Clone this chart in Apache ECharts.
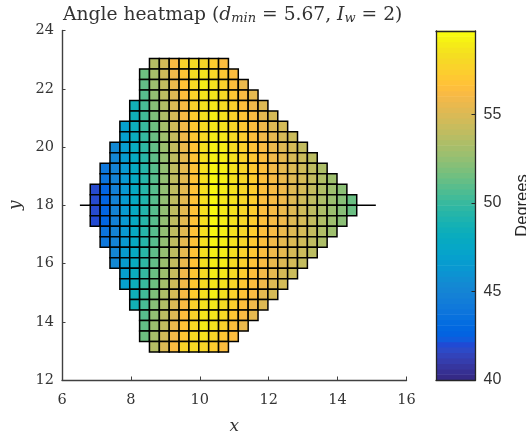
<!DOCTYPE html>
<html><head><meta charset="utf-8">
<style>html,body{margin:0;padding:0;background:#fff}#c{width:526px;height:439px}</style>
<script src="https://cdn.jsdelivr.net/npm/echarts@6/dist/echarts.min.js"></script>
</head><body><div id="c"></div>
<script>
const colX=[6.963,7.25,7.536,7.823,8.109,8.396,8.682,8.969,9.255,9.542,9.828,10.115,10.401,10.688,10.974,11.261,11.547,11.834,12.12,12.407,12.693,12.98,13.266,13.553,13.839,14.126,14.412];
const rowY=[22.86,22.5,22.14,21.78,21.42,21.06,20.7,20.34,19.98,19.62,19.26,18.9,18.54,18.18,17.82,17.46,17.1,16.74,16.38,16.02,15.66,15.3,14.94,14.58,14.22,13.86,13.5,13.14];
const rowFirstCol=[6,5,5,5,4,4,3,3,2,2,1,1,0,0,0,0,1,1,2,2,3,3,4,4,5,5,5,6];
const cellW=0.2865, cellH=0.36;
const rowValues=[
[53.7,54.8,56.3,57.7,58.2,58.0,57.4,56.5],
[51.5,53.2,54.6,55.9,57.0,58.3,58.6,58.0,57.1,56.5],
[51.2,52.8,54.1,55.7,56.9,58.2,59.1,58.6,57.7,56.6,55.7],
[50.9,52.5,53.9,55.2,56.6,57.8,58.8,58.8,58.2,57.1,56.3,55.5],
[48.6,50.5,52.2,53.5,55.1,56.3,57.7,58.6,58.9,58.3,57.6,56.6,55.9,55.2],
[48.5,50.3,51.9,53.4,54.8,56.2,57.4,58.5,59.2,58.6,57.7,56.9,56.3,55.5,54.9],
[46.9,48.3,50.0,51.5,53.1,54.6,56.0,57.2,58.3,58.9,58.6,57.9,57.1,56.5,55.9,55.2,54.8],
[46.8,48.2,49.9,51.4,52.9,54.3,55.9,57.1,58.2,59.1,58.9,58.2,57.4,56.6,56.0,55.5,54.9,54.5],
[45.2,46.6,48.0,49.7,51.2,52.8,54.2,55.7,56.9,58.5,59.2,59.1,58.3,57.6,56.8,56.3,55.7,55.2,54.8,54.2],
[45.1,46.5,47.8,49.5,51.1,52.6,54.0,55.5,56.9,58.5,59.2,59.1,58.5,57.7,57.1,56.5,55.9,55.5,54.9,54.5,53.9],
[43.9,44.8,46.3,47.8,49.4,50.9,52.5,54.0,55.5,56.8,58.5,59.4,59.2,58.6,57.9,57.2,56.6,56.0,55.5,55.1,54.6,54.0,53.4],
[43.7,44.8,46.3,47.8,49.4,50.9,52.5,54.0,55.4,56.8,58.5,59.5,59.2,58.6,58.0,57.4,56.6,56.2,55.7,55.2,54.8,54.2,53.5,52.9],
[41.7,42.6,44.6,46.3,47.8,49.4,50.9,52.5,54.0,55.4,56.8,58.5,59.5,59.1,58.6,58.0,57.4,56.6,56.2,55.9,55.2,54.8,54.2,53.5,52.9,52.3],
[41.7,42.6,44.8,46.5,47.8,49.2,50.9,52.5,54.0,55.4,56.8,58.5,59.5,58.9,58.6,58.0,57.4,56.5,56.2,55.9,55.2,54.6,54.0,53.4,52.8,52.2,51.4],
[41.7,42.6,44.8,46.4,47.8,49.3,50.9,52.5,54.0,55.4,56.8,58.5,59.6,59.0,58.6,58.0,57.4,56.5,56.2,55.8,55.2,54.6,54.0,53.4,52.8,52.2,51.4],
[41.8,42.7,44.6,46.3,47.8,49.4,50.9,52.5,54.0,55.4,56.8,58.5,59.5,59.1,58.6,58.0,57.4,56.6,56.2,55.9,55.2,54.8,54.2,53.5,52.9,52.3],
[43.7,44.8,46.3,47.8,49.4,50.9,52.5,54.0,55.4,56.8,58.5,59.5,59.2,58.6,58.0,57.4,56.6,56.2,55.7,55.2,54.8,54.2,53.5,52.9],
[43.9,44.8,46.3,47.8,49.4,50.9,52.5,54.0,55.5,56.8,58.5,59.4,59.2,58.6,57.9,57.2,56.6,56.0,55.5,55.1,54.6,54.0,53.4],
[45.1,46.5,47.8,49.5,51.1,52.6,54.0,55.5,56.9,58.5,59.2,59.1,58.5,57.7,57.1,56.5,55.9,55.5,54.9,54.5,53.9],
[45.2,46.6,48.0,49.7,51.2,52.8,54.2,55.7,56.9,58.5,59.2,59.1,58.3,57.6,56.8,56.3,55.7,55.2,54.8,54.2],
[46.8,48.2,49.9,51.4,52.9,54.3,55.9,57.1,58.2,59.1,58.9,58.2,57.4,56.6,56.0,55.5,54.9,54.5],
[46.9,48.3,50.0,51.5,53.1,54.6,56.0,57.2,58.3,58.9,58.6,57.9,57.1,56.5,55.9,55.2,54.8],
[48.5,50.3,51.9,53.4,54.8,56.2,57.4,58.5,59.2,58.6,57.7,56.9,56.3,55.5,54.9],
[48.6,50.5,52.2,53.5,55.1,56.3,57.7,58.6,58.9,58.3,57.6,56.6,55.9,55.2],
[50.9,52.5,53.9,55.2,56.6,57.8,58.8,58.8,58.2,57.1,56.3,55.5],
[51.2,52.8,54.1,55.7,56.9,58.2,59.1,58.6,57.7,56.6,55.7],
[51.5,53.2,54.7,56.0,57.1,58.3,58.6,58.0,57.1,56.5],
[53.7,55.1,56.4,57.9,58.2,58.0,57.4,56.5]
];
const sightLineX=[6.52,15.11];
const sightLineY=[18,18];
const xTicks=[6,8,10,12,14,16];
const yTicks=[12,14,16,18,20,22,24];
const cbarTicks=[40,45,50,55];
const cbarMin=40, cbarMax=59.7;
const parula=['#352a87','#363093','#36369f','#353dad','#3243ba','#2c4ac7','#204ad4','#0f5cdd','#0363e1','#0268e1','#046de0','#0871de','#0d75dc','#1079da','#127dd8','#1481d6','#1485d4','#1389d3','#108ed2','#0c93d2','#0998d1','#079ccf','#06a0cd','#06a4ca','#06a7c6','#07a9c2','#0aacbe','#0faeb9','#15b1b4','#1db3af','#25b5a9','#2eb7a4','#38b99e','#42bb98','#4dbc92','#59bd8c','#65be86','#71bf80','#7cbf7b','#87bf77','#92bf73','#9cbf6f','#a5be6b','#aebe67','#b7bd64','#c0bc60','#c8bc5d','#d1bb59','#d9ba56','#e1b952','#e9b94e','#f1b94a','#f8ba44','#fdbe3d','#ffc337','#fec832','#fcce2e','#fad32a','#f7d826','#f5de21','#f5e41d','#f5eb18','#f6f313','#f9fb0e'];

const cells=[];
rowValues.forEach((vals,r)=>vals.forEach((v,i)=>cells.push([colX[rowFirstCol[r]+i],rowY[r],v])));
const cbarLevels=parula.map((c,i)=>i);
const serif='"DejaVu Serif","Liberation Serif",serif';
const sans='"Liberation Sans",Arial,sans-serif';
const axisGrey='#404040';

const chart=echarts.init(document.getElementById('c'),null,{renderer:'canvas'});
chart.setOption({
  backgroundColor:'#fff',
  animation:false,
  title:{
    left:63,top:6,padding:0,
    text:'Angle heatmap ({i|d}{s|min} = 5.67, {i|I}{s|w} = 2)',
    textStyle:{fontFamily:serif,fontSize:18.7,fontWeight:'normal',color:'#333',
      rich:{i:{fontFamily:serif,fontSize:18.7,fontStyle:'italic',color:'#333'},
            s:{fontFamily:serif,fontSize:13,fontStyle:'italic',color:'#333',verticalAlign:'bottom',padding:[6,0,0,0]}}}
  },
  grid:[
    {left:62,top:30.5,width:344.5,height:349.5,outerBoundsMode:'none'},
    {left:436,top:31,width:39.5,height:349,outerBoundsMode:'none'}
  ],
  xAxis:[
    {gridIndex:0,type:'value',min:6,max:16,interval:2,z:5,
     name:'x',nameLocation:'middle',nameGap:38,nameTextStyle:{fontFamily:serif,fontStyle:'italic',fontSize:17,color:'#333'},
     axisLine:{show:true,onZero:false,lineStyle:{color:axisGrey,width:1.4}},
     axisTick:{show:true,inside:true,length:3.5,lineStyle:{color:axisGrey,width:1}},
     axisLabel:{fontFamily:serif,fontSize:14.5,color:'#333',margin:13,customValues:xTicks},
     splitLine:{show:false}},
    {gridIndex:1,type:'value',min:0,max:1,z:5,position:'bottom',axisLine:{show:true,onZero:false,lineStyle:{color:'#262626',width:1.3}},axisTick:{show:false},axisLabel:{show:false},splitLine:{show:false}},
    {gridIndex:1,type:'value',min:0,max:1,z:5,position:'top',axisLine:{show:true,onZero:false,lineStyle:{color:'#262626',width:1.3}},axisTick:{show:false},axisLabel:{show:false},splitLine:{show:false}}
  ],
  yAxis:[
    {gridIndex:0,type:'value',min:12,max:24,interval:2,z:5,
     name:'y',nameLocation:'middle',nameGap:38,nameRotate:90,nameTextStyle:{fontFamily:serif,fontStyle:'italic',fontSize:17,color:'#333'},
     axisLine:{show:true,onZero:false,lineStyle:{color:axisGrey,width:1.4}},
     axisTick:{show:true,inside:true,length:3.5,lineStyle:{color:axisGrey,width:1}},
     axisLabel:{fontFamily:serif,fontSize:14.5,color:'#333',margin:8,customValues:yTicks},
     splitLine:{show:false}},
    {gridIndex:1,type:'value',min:cbarMin,max:cbarMax,z:5,position:'right',
     name:'Degrees',nameLocation:'middle',nameGap:38,nameRotate:90,nameTextStyle:{fontFamily:sans,fontSize:16.5,color:'#262626'},
     axisLine:{show:true,onZero:false,lineStyle:{color:'#262626',width:1.3}},
     axisTick:{show:true,inside:true,length:4,lineStyle:{color:'#262626',width:1},customValues:cbarTicks},
     axisLabel:{fontFamily:sans,fontSize:16,color:'#333',margin:8,customValues:cbarTicks},
     splitLine:{show:false}},
    {gridIndex:1,type:'value',min:cbarMin,max:cbarMax,z:5,position:'left',
     axisLine:{show:true,onZero:false,lineStyle:{color:'#262626',width:1.3}},axisTick:{show:false},axisLabel:{show:false},splitLine:{show:false}}
  ],
  visualMap:{show:false,type:'continuous',seriesIndex:1,dimension:2,min:cbarMin,max:cbarMax,inRange:{color:parula}},
  series:[
    {type:'line',xAxisIndex:0,yAxisIndex:0,z:1,silent:true,showSymbol:false,
     data:sightLineX.map((x,i)=>[x,sightLineY[i]]),lineStyle:{color:'#000',width:1.3}},
    {type:'custom',xAxisIndex:0,yAxisIndex:0,z:2,silent:true,
     encode:{x:0,y:1},data:cells,
     renderItem(p,api){
       const a=api.coord([api.value(0)-cellW/2,api.value(1)+cellH/2]);
       const b=api.coord([api.value(0)+cellW/2,api.value(1)-cellH/2]);
       return {type:'rect',shape:{x:a[0],y:a[1],width:b[0]-a[0],height:b[1]-a[1]},
               style:{fill:api.visual('color'),stroke:'#000',lineWidth:1.5}};
     }},
    {type:'custom',xAxisIndex:1,yAxisIndex:1,z:2,silent:true,
     encode:{y:0},data:cbarLevels,
     renderItem(p,api){
       const i=api.value(0), step=(cbarMax-cbarMin)/parula.length;
       const a=api.coord([0,cbarMin+(i+1)*step]);
       const b=api.coord([1,cbarMin+i*step]);
       return {type:'rect',shape:{x:a[0],y:a[1]-0.3,width:b[0]-a[0],height:b[1]-a[1]+0.6},style:{fill:parula[i]}};
     }}
  ]
});
</script></body></html>
